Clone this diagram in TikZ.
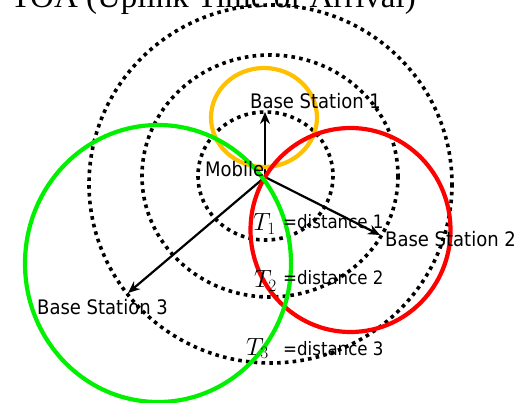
\documentclass[tikz,border=0pt]{standalone}
\usepackage{fontspec}
\setmainfont{Liberation Serif}
\newfontfamily\labfont{DejaVu Sans Condensed}
\usetikzlibrary{arrows.meta}
\definecolor{bsorange}{HTML}{FFC000}
\definecolor{bsred}{HTML}{FF0000}
\definecolor{bsgreen}{RGB}{0,240,0}
\tikzset{
  ring/.style={line width=3.6pt, dash pattern=on 3.6pt off 4.2pt},
  cell/.style={line width=4.2pt},
  ray/.style={line width=2.2pt, -{Stealth[length=12pt,width=10pt]}},
  lab/.style={inner sep=0pt, anchor=base west, font=\labfont\fontsize{20}{24}\selectfont},
  dlab/.style={inner sep=0pt, anchor=base west, font=\labfont\fontsize{18.5}{22}\selectfont},
  tlab/.style={inner sep=0pt, anchor=base west, font=\fontsize{26}{30}\selectfont},
}
\begin{document}
\begin{tikzpicture}[x=1pt,y=-1pt]
\useasboundingbox (0,0) rectangle (522,403);
\clip (0,0) rectangle (522,403);
% title (cut off at top, as in the reference)
\node[inner sep=0pt, anchor=base east, font=\fontsize{33}{40}\selectfont] (title) at (416,8) {TOA (Uplink Time of Arrival)};
% concentric dotted rings
\draw[ring] (265.5,176) ellipse [x radius=67.5, y radius=64];
\draw[ring] (270,176) ellipse [x radius=128, y radius=121];
\draw[ring] (270.5,184) ellipse [x radius=181.5, y radius=179];
% points
\coordinate (mob) at (265,177);
\coordinate (bs1) at (265,112);
\coordinate (bs2) at (380,235);
\coordinate (bs3) at (128,293);
% arrows
\draw[ray] (mob) -- (bs1);
\draw[ray] (mob) -- (bs2);
\draw[ray] (mob) -- (bs3);
% base station cells
\draw[cell, bsorange] (264,117.5) ellipse [x radius=53, y radius=49.5];
\draw[cell, bsred] (350.5,230) ellipse [x radius=100, y radius=102];
\draw[cell, bsgreen] (158,263.5) ellipse [x radius=133, y radius=138.5];
% labels
\node[lab] (l1) at (250,109) {Base Station 1};
\node[lab] (lm) at (205,177) {Mobile};
\node[lab] (l2) at (385,247) {Base Station 2};
\node[lab] (l3) at (37,315) {Base Station 3};
\node[tlab] (t1) at (253,231) {$T_1$};
\node[tlab] (t2) at (254,288) {$T_2$};
\node[tlab] (t3) at (246,355) {$T_3$};
\node[dlab] (d1) at (283,229) {=distance 1};
\node[dlab] (d2) at (283,285) {=distance 2};
\node[dlab] (d3) at (283,355) {=distance 3};
\end{tikzpicture}
\end{document}
